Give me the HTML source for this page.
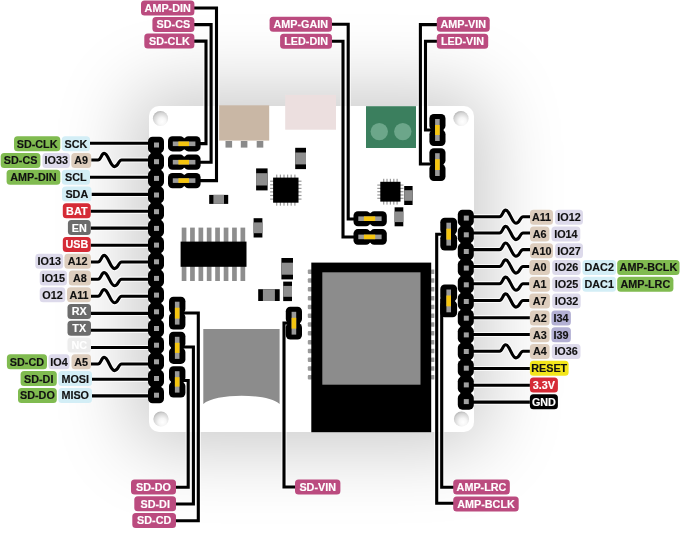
<!DOCTYPE html>
<html><head><meta charset="utf-8"><style>
html,body{margin:0;padding:0;background:#fff;}
body{width:680px;height:536px;overflow:hidden;position:relative;}
.board{position:absolute;left:149px;top:106px;width:325px;height:326px;border-radius:10px;background:#fff;box-shadow:-2px 0 76px 16px rgba(0,0,0,0.21);}
svg{position:absolute;left:0;top:0;will-change:transform;}
text{font-family:"Liberation Sans",sans-serif;font-weight:bold;font-size:10.8px;}
.wrap{position:absolute;left:0;top:0;width:680px;height:536px;filter:blur(0.3px);}
</style></head><body><div class="wrap">
<div class="board"></div>
<svg width="680" height="536" viewBox="0 0 680 536">
<defs><radialGradient id="hole" cx="0.58" cy="0.66" fx="0.6" fy="0.72" r="0.72"><stop offset="0" stop-color="#ffffff"/><stop offset="0.35" stop-color="#f6f6f6"/><stop offset="0.75" stop-color="#d4d4d4"/><stop offset="1" stop-color="#a9a9a9"/></radialGradient></defs>
<rect x="219" y="105.3" width="50.2" height="35.3" fill="#c9b7a5"/>
<rect x="225.5" y="141" width="6.6" height="6.6" fill="#8a8a8a"/>
<rect x="240.8" y="141" width="6.6" height="6.6" fill="#8a8a8a"/>
<rect x="256.7" y="141" width="6.6" height="6.6" fill="#8a8a8a"/>
<rect x="285.2" y="94.9" width="50.8" height="34.8" fill="#ecdfdf"/>
<rect x="366" y="106.2" width="50" height="41.8" fill="#3b7f5e"/>
<circle cx="379.3" cy="131.6" r="8.7" fill="#6ca68a"/>
<circle cx="402.8" cy="131.6" r="8.7" fill="#6ca68a"/>
<rect x="295.2" y="147.8" width="10.8" height="21.3" fill="#000"/>
<rect x="295.2" y="152.5" width="10.8" height="11.9" fill="#8e8e8e"/>
<rect x="256.1" y="168.4" width="11.5" height="22.0" fill="#000"/>
<rect x="256.1" y="173.2" width="11.5" height="12.3" fill="#8e8e8e"/>
<rect x="404.2" y="186" width="8.4" height="19.0" fill="#000"/>
<rect x="404.2" y="190.2" width="8.4" height="10.6" fill="#8e8e8e"/>
<rect x="394.6" y="207.3" width="8.7" height="19.0" fill="#000"/>
<rect x="394.6" y="211.5" width="8.7" height="10.6" fill="#8e8e8e"/>
<rect x="253.6" y="218.2" width="8.8" height="19.3" fill="#000"/>
<rect x="253.6" y="222.4" width="8.8" height="10.8" fill="#8e8e8e"/>
<rect x="281.4" y="258" width="11.6" height="21.4" fill="#000"/>
<rect x="281.4" y="262.7" width="11.6" height="12.0" fill="#8e8e8e"/>
<rect x="283.2" y="281.6" width="8.8" height="19.5" fill="#000"/>
<rect x="283.2" y="285.9" width="8.8" height="10.9" fill="#8e8e8e"/>
<rect x="209.2" y="194.9" width="19.0" height="9.0" fill="#000"/>
<rect x="213.4" y="194.9" width="10.6" height="9.0" fill="#8e8e8e"/>
<rect x="258.2" y="289.2" width="21.5" height="11.8" fill="#000"/>
<rect x="262.9" y="289.2" width="12.0" height="11.8" fill="#8e8e8e"/>
<rect x="276.1" y="174.6" width="1.2" height="31.1" fill="#999"/>
<rect x="270.1" y="180.6" width="31.4" height="1.2" fill="#999"/>
<rect x="279.8" y="174.6" width="1.2" height="31.1" fill="#999"/>
<rect x="270.1" y="184.2" width="31.4" height="1.2" fill="#999"/>
<rect x="283.4" y="174.6" width="1.2" height="31.1" fill="#999"/>
<rect x="270.1" y="187.8" width="31.4" height="1.2" fill="#999"/>
<rect x="287.0" y="174.6" width="1.2" height="31.1" fill="#999"/>
<rect x="270.1" y="191.3" width="31.4" height="1.2" fill="#999"/>
<rect x="290.6" y="174.6" width="1.2" height="31.1" fill="#999"/>
<rect x="270.1" y="194.9" width="31.4" height="1.2" fill="#999"/>
<rect x="294.3" y="174.6" width="1.2" height="31.1" fill="#999"/>
<rect x="270.1" y="198.5" width="31.4" height="1.2" fill="#999"/>
<rect x="273.1" y="177.6" width="25.4" height="25.1" fill="#000"/>
<rect x="383.1" y="178.8" width="1.2" height="25.8" fill="#999"/>
<rect x="377.3" y="184.5" width="26.2" height="1.2" fill="#999"/>
<rect x="386.4" y="178.8" width="1.2" height="25.8" fill="#999"/>
<rect x="377.3" y="187.8" width="26.2" height="1.2" fill="#999"/>
<rect x="389.8" y="178.8" width="1.2" height="25.8" fill="#999"/>
<rect x="377.3" y="191.1" width="26.2" height="1.2" fill="#999"/>
<rect x="393.2" y="178.8" width="1.2" height="25.8" fill="#999"/>
<rect x="377.3" y="194.4" width="26.2" height="1.2" fill="#999"/>
<rect x="396.5" y="178.8" width="1.2" height="25.8" fill="#999"/>
<rect x="377.3" y="197.7" width="26.2" height="1.2" fill="#999"/>
<rect x="380.3" y="181.8" width="20.2" height="19.8" fill="#000"/>
<rect x="181.7" y="227.6" width="4.7" height="53.4" fill="#8e8e8e"/>
<rect x="190.1" y="227.6" width="4.7" height="53.4" fill="#8e8e8e"/>
<rect x="198.5" y="227.6" width="4.7" height="53.4" fill="#8e8e8e"/>
<rect x="206.8" y="227.6" width="4.7" height="53.4" fill="#8e8e8e"/>
<rect x="215.2" y="227.6" width="4.7" height="53.4" fill="#8e8e8e"/>
<rect x="223.7" y="227.6" width="4.7" height="53.4" fill="#8e8e8e"/>
<rect x="232.1" y="227.6" width="4.7" height="53.4" fill="#8e8e8e"/>
<rect x="240.5" y="227.6" width="4.7" height="53.4" fill="#8e8e8e"/>
<rect x="180.6" y="241.6" width="65.9" height="25.2" fill="#000"/>
<rect x="307.8" y="269.5" width="4.5" height="4.5" rx="1" fill="#9a9a9a"/>
<rect x="430.8" y="269.5" width="4.5" height="4.5" rx="1" fill="#9a9a9a"/>
<rect x="307.8" y="278.3" width="4.5" height="4.5" rx="1" fill="#9a9a9a"/>
<rect x="430.8" y="278.3" width="4.5" height="4.5" rx="1" fill="#9a9a9a"/>
<rect x="307.8" y="287.1" width="4.5" height="4.5" rx="1" fill="#9a9a9a"/>
<rect x="430.8" y="287.1" width="4.5" height="4.5" rx="1" fill="#9a9a9a"/>
<rect x="307.8" y="295.9" width="4.5" height="4.5" rx="1" fill="#9a9a9a"/>
<rect x="430.8" y="295.9" width="4.5" height="4.5" rx="1" fill="#9a9a9a"/>
<rect x="307.8" y="304.7" width="4.5" height="4.5" rx="1" fill="#9a9a9a"/>
<rect x="430.8" y="304.7" width="4.5" height="4.5" rx="1" fill="#9a9a9a"/>
<rect x="307.8" y="313.5" width="4.5" height="4.5" rx="1" fill="#9a9a9a"/>
<rect x="430.8" y="313.5" width="4.5" height="4.5" rx="1" fill="#9a9a9a"/>
<rect x="307.8" y="322.3" width="4.5" height="4.5" rx="1" fill="#9a9a9a"/>
<rect x="430.8" y="322.3" width="4.5" height="4.5" rx="1" fill="#9a9a9a"/>
<rect x="307.8" y="331.1" width="4.5" height="4.5" rx="1" fill="#9a9a9a"/>
<rect x="430.8" y="331.1" width="4.5" height="4.5" rx="1" fill="#9a9a9a"/>
<rect x="307.8" y="339.9" width="4.5" height="4.5" rx="1" fill="#9a9a9a"/>
<rect x="430.8" y="339.9" width="4.5" height="4.5" rx="1" fill="#9a9a9a"/>
<rect x="307.8" y="348.7" width="4.5" height="4.5" rx="1" fill="#9a9a9a"/>
<rect x="430.8" y="348.7" width="4.5" height="4.5" rx="1" fill="#9a9a9a"/>
<rect x="307.8" y="357.5" width="4.5" height="4.5" rx="1" fill="#9a9a9a"/>
<rect x="430.8" y="357.5" width="4.5" height="4.5" rx="1" fill="#9a9a9a"/>
<rect x="307.8" y="366.3" width="4.5" height="4.5" rx="1" fill="#9a9a9a"/>
<rect x="430.8" y="366.3" width="4.5" height="4.5" rx="1" fill="#9a9a9a"/>
<rect x="307.8" y="375.1" width="4.5" height="4.5" rx="1" fill="#9a9a9a"/>
<rect x="430.8" y="375.1" width="4.5" height="4.5" rx="1" fill="#9a9a9a"/>
<rect x="311.3" y="262.6" width="119.9" height="169.6" fill="#000"/>
<rect x="322.3" y="272.3" width="98.2" height="112.4" fill="#8c8c8c"/>
<path d="M203.3,328.9 H279.6 V404 C268,393 215,393 203.3,404 Z" fill="#8c8c8c"/>
<circle cx="160.5" cy="118.5" r="7.6" fill="url(#hole)"/>
<circle cx="461" cy="118.5" r="7.6" fill="url(#hole)"/>
<circle cx="161" cy="419" r="7.6" fill="url(#hole)"/>
<circle cx="461.5" cy="419" r="7.6" fill="url(#hole)"/>
<path d="M90.0,143.2 H150" fill="none" stroke="#fff" stroke-opacity="0.75" stroke-width="5.2" stroke-linejoin="miter"/>
<path d="M91.2,160.0 H98.0 C101.2,160.0 101.2,153.4 104.2,153.4 C108.2,153.4 110.4,166.6 114.4,166.6 C118.4,166.6 118.4,160.0 121.6,160.0 H150" fill="none" stroke="#fff" stroke-opacity="0.75" stroke-width="5.2" stroke-linejoin="miter"/>
<path d="M90.0,177.2 H150" fill="none" stroke="#fff" stroke-opacity="0.75" stroke-width="5.2" stroke-linejoin="miter"/>
<path d="M91.5,194.4 H150" fill="none" stroke="#fff" stroke-opacity="0.75" stroke-width="5.2" stroke-linejoin="miter"/>
<path d="M90.7,211.3 H150" fill="none" stroke="#fff" stroke-opacity="0.75" stroke-width="5.2" stroke-linejoin="miter"/>
<path d="M90.7,228.1 H150" fill="none" stroke="#fff" stroke-opacity="0.75" stroke-width="5.2" stroke-linejoin="miter"/>
<path d="M90.7,245.3 H150" fill="none" stroke="#fff" stroke-opacity="0.75" stroke-width="5.2" stroke-linejoin="miter"/>
<path d="M90.9,262.0 H98.0 C101.2,262.0 101.2,255.4 104.2,255.4 C108.2,255.4 110.4,268.6 114.4,268.6 C118.4,268.6 118.4,262.0 121.6,262.0 H150" fill="none" stroke="#fff" stroke-opacity="0.75" stroke-width="5.2" stroke-linejoin="miter"/>
<path d="M90.9,279.2 H98.0 C101.2,279.2 101.2,272.6 104.2,272.6 C108.2,272.6 110.4,285.8 114.4,285.8 C118.4,285.8 118.4,279.2 121.6,279.2 H150" fill="none" stroke="#fff" stroke-opacity="0.75" stroke-width="5.2" stroke-linejoin="miter"/>
<path d="M90.9,296.2 H98.0 C101.2,296.2 101.2,289.6 104.2,289.6 C108.2,289.6 110.4,302.8 114.4,302.8 C118.4,302.8 118.4,296.2 121.6,296.2 H150" fill="none" stroke="#fff" stroke-opacity="0.75" stroke-width="5.2" stroke-linejoin="miter"/>
<path d="M91.0,313.4 H150" fill="none" stroke="#fff" stroke-opacity="0.75" stroke-width="5.2" stroke-linejoin="miter"/>
<path d="M91.0,330.3 H150" fill="none" stroke="#fff" stroke-opacity="0.75" stroke-width="5.2" stroke-linejoin="miter"/>
<path d="M91.0,347.5 H150" fill="none" stroke="#fff" stroke-opacity="0.75" stroke-width="5.2" stroke-linejoin="miter"/>
<path d="M91.0,364.0 H98.0 C101.2,364.0 101.2,357.4 104.2,357.4 C108.2,357.4 110.4,370.6 114.4,370.6 C118.4,370.6 118.4,364.0 121.6,364.0 H150" fill="none" stroke="#fff" stroke-opacity="0.75" stroke-width="5.2" stroke-linejoin="miter"/>
<path d="M92.0,379.3 H150" fill="none" stroke="#fff" stroke-opacity="0.75" stroke-width="5.2" stroke-linejoin="miter"/>
<path d="M92.0,395.9 H150" fill="none" stroke="#fff" stroke-opacity="0.75" stroke-width="5.2" stroke-linejoin="miter"/>
<path d="M472,216.7 H499.5 C502.7,216.7 502.7,210.1 505.7,210.1 C509.7,210.1 511.9,223.3 515.9,223.3 C519.9,223.3 519.9,216.7 523.1,216.7 H530.0" fill="none" stroke="#fff" stroke-opacity="0.75" stroke-width="5.2" stroke-linejoin="miter"/>
<path d="M472,233.0 H499.5 C502.7,233.0 502.7,226.4 505.7,226.4 C509.7,226.4 511.9,239.6 515.9,239.6 C519.9,239.6 519.9,233.0 523.1,233.0 H530.0" fill="none" stroke="#fff" stroke-opacity="0.75" stroke-width="5.2" stroke-linejoin="miter"/>
<path d="M472,249.6 H499.5 C502.7,249.6 502.7,243.0 505.7,243.0 C509.7,243.0 511.9,256.2 515.9,256.2 C519.9,256.2 519.9,249.6 523.1,249.6 H530.0" fill="none" stroke="#fff" stroke-opacity="0.75" stroke-width="5.2" stroke-linejoin="miter"/>
<path d="M472,266.5 H499.5 C502.7,266.5 502.7,259.9 505.7,259.9 C509.7,259.9 511.9,273.1 515.9,273.1 C519.9,273.1 519.9,266.5 523.1,266.5 H529.4" fill="none" stroke="#fff" stroke-opacity="0.75" stroke-width="5.2" stroke-linejoin="miter"/>
<path d="M472,283.7 H499.5 C502.7,283.7 502.7,277.1 505.7,277.1 C509.7,277.1 511.9,290.3 515.9,290.3 C519.9,290.3 519.9,283.7 523.1,283.7 H529.4" fill="none" stroke="#fff" stroke-opacity="0.75" stroke-width="5.2" stroke-linejoin="miter"/>
<path d="M472,300.5 H499.5 C502.7,300.5 502.7,293.9 505.7,293.9 C509.7,293.9 511.9,307.1 515.9,307.1 C519.9,307.1 519.9,300.5 523.1,300.5 H529.4" fill="none" stroke="#fff" stroke-opacity="0.75" stroke-width="5.2" stroke-linejoin="miter"/>
<path d="M472,317.7 H529.9" fill="none" stroke="#fff" stroke-opacity="0.75" stroke-width="5.2" stroke-linejoin="miter"/>
<path d="M472,334.5 H529.9" fill="none" stroke="#fff" stroke-opacity="0.75" stroke-width="5.2" stroke-linejoin="miter"/>
<path d="M472,351.3 H499.5 C502.7,351.3 502.7,344.7 505.7,344.7 C509.7,344.7 511.9,357.9 515.9,357.9 C519.9,357.9 519.9,351.3 523.1,351.3 H529.9" fill="none" stroke="#fff" stroke-opacity="0.75" stroke-width="5.2" stroke-linejoin="miter"/>
<path d="M472,368.5 H529.9" fill="none" stroke="#fff" stroke-opacity="0.75" stroke-width="5.2" stroke-linejoin="miter"/>
<path d="M472,385.3 H529.9" fill="none" stroke="#fff" stroke-opacity="0.75" stroke-width="5.2" stroke-linejoin="miter"/>
<path d="M472,402.1 H529.9" fill="none" stroke="#fff" stroke-opacity="0.75" stroke-width="5.2" stroke-linejoin="miter"/>
<path d="M194,8 H216.5 V180.6 H198" fill="none" stroke="#fff" stroke-opacity="0.75" stroke-width="5.2" stroke-linejoin="miter"/>
<path d="M194,24.6 H211.1 V162.2 H198" fill="none" stroke="#fff" stroke-opacity="0.75" stroke-width="5.2" stroke-linejoin="miter"/>
<path d="M194,41.1 H206 V143.6 H198" fill="none" stroke="#fff" stroke-opacity="0.75" stroke-width="5.2" stroke-linejoin="miter"/>
<path d="M331,24.2 H348.2 V219 H356" fill="none" stroke="#fff" stroke-opacity="0.75" stroke-width="5.2" stroke-linejoin="miter"/>
<path d="M331,41.2 H343 V237 H356" fill="none" stroke="#fff" stroke-opacity="0.75" stroke-width="5.2" stroke-linejoin="miter"/>
<path d="M437,24.6 H420.4 V164 H432" fill="none" stroke="#fff" stroke-opacity="0.75" stroke-width="5.2" stroke-linejoin="miter"/>
<path d="M437,41.2 H425.5 V130 H432" fill="none" stroke="#fff" stroke-opacity="0.75" stroke-width="5.2" stroke-linejoin="miter"/>
<path d="M175,487.2 H188.2 V380.5 H183" fill="none" stroke="#fff" stroke-opacity="0.75" stroke-width="5.2" stroke-linejoin="miter"/>
<path d="M175,504 H193.4 V347 H183" fill="none" stroke="#fff" stroke-opacity="0.75" stroke-width="5.2" stroke-linejoin="miter"/>
<path d="M175,520.8 H198.3 V313 H183" fill="none" stroke="#fff" stroke-opacity="0.75" stroke-width="5.2" stroke-linejoin="miter"/>
<path d="M339,487 H284 V323 H289" fill="none" stroke="#fff" stroke-opacity="0.75" stroke-width="5.2" stroke-linejoin="miter"/>
<path d="M454,487.2 H441.7 V300 H444" fill="none" stroke="#fff" stroke-opacity="0.75" stroke-width="5.2" stroke-linejoin="miter"/>
<path d="M454,503.3 H436.7 V234.3 H443" fill="none" stroke="#fff" stroke-opacity="0.75" stroke-width="5.2" stroke-linejoin="miter"/>
<path d="M90.0,143.2 H150" fill="none" stroke="#000" stroke-width="3.1" stroke-linejoin="miter"/>
<path d="M91.2,160.0 H98.0 C101.2,160.0 101.2,153.4 104.2,153.4 C108.2,153.4 110.4,166.6 114.4,166.6 C118.4,166.6 118.4,160.0 121.6,160.0 H150" fill="none" stroke="#000" stroke-width="3.1" stroke-linejoin="miter"/>
<path d="M90.0,177.2 H150" fill="none" stroke="#000" stroke-width="3.1" stroke-linejoin="miter"/>
<path d="M91.5,194.4 H150" fill="none" stroke="#000" stroke-width="3.1" stroke-linejoin="miter"/>
<path d="M90.7,211.3 H150" fill="none" stroke="#000" stroke-width="3.1" stroke-linejoin="miter"/>
<path d="M90.7,228.1 H150" fill="none" stroke="#000" stroke-width="3.1" stroke-linejoin="miter"/>
<path d="M90.7,245.3 H150" fill="none" stroke="#000" stroke-width="3.1" stroke-linejoin="miter"/>
<path d="M90.9,262.0 H98.0 C101.2,262.0 101.2,255.4 104.2,255.4 C108.2,255.4 110.4,268.6 114.4,268.6 C118.4,268.6 118.4,262.0 121.6,262.0 H150" fill="none" stroke="#000" stroke-width="3.1" stroke-linejoin="miter"/>
<path d="M90.9,279.2 H98.0 C101.2,279.2 101.2,272.6 104.2,272.6 C108.2,272.6 110.4,285.8 114.4,285.8 C118.4,285.8 118.4,279.2 121.6,279.2 H150" fill="none" stroke="#000" stroke-width="3.1" stroke-linejoin="miter"/>
<path d="M90.9,296.2 H98.0 C101.2,296.2 101.2,289.6 104.2,289.6 C108.2,289.6 110.4,302.8 114.4,302.8 C118.4,302.8 118.4,296.2 121.6,296.2 H150" fill="none" stroke="#000" stroke-width="3.1" stroke-linejoin="miter"/>
<path d="M91.0,313.4 H150" fill="none" stroke="#000" stroke-width="3.1" stroke-linejoin="miter"/>
<path d="M91.0,330.3 H150" fill="none" stroke="#000" stroke-width="3.1" stroke-linejoin="miter"/>
<path d="M91.0,347.5 H150" fill="none" stroke="#000" stroke-width="3.1" stroke-linejoin="miter"/>
<path d="M91.0,364.0 H98.0 C101.2,364.0 101.2,357.4 104.2,357.4 C108.2,357.4 110.4,370.6 114.4,370.6 C118.4,370.6 118.4,364.0 121.6,364.0 H150" fill="none" stroke="#000" stroke-width="3.1" stroke-linejoin="miter"/>
<path d="M92.0,379.3 H150" fill="none" stroke="#000" stroke-width="3.1" stroke-linejoin="miter"/>
<path d="M92.0,395.9 H150" fill="none" stroke="#000" stroke-width="3.1" stroke-linejoin="miter"/>
<path d="M472,216.7 H499.5 C502.7,216.7 502.7,210.1 505.7,210.1 C509.7,210.1 511.9,223.3 515.9,223.3 C519.9,223.3 519.9,216.7 523.1,216.7 H530.0" fill="none" stroke="#000" stroke-width="3.1" stroke-linejoin="miter"/>
<path d="M472,233.0 H499.5 C502.7,233.0 502.7,226.4 505.7,226.4 C509.7,226.4 511.9,239.6 515.9,239.6 C519.9,239.6 519.9,233.0 523.1,233.0 H530.0" fill="none" stroke="#000" stroke-width="3.1" stroke-linejoin="miter"/>
<path d="M472,249.6 H499.5 C502.7,249.6 502.7,243.0 505.7,243.0 C509.7,243.0 511.9,256.2 515.9,256.2 C519.9,256.2 519.9,249.6 523.1,249.6 H530.0" fill="none" stroke="#000" stroke-width="3.1" stroke-linejoin="miter"/>
<path d="M472,266.5 H499.5 C502.7,266.5 502.7,259.9 505.7,259.9 C509.7,259.9 511.9,273.1 515.9,273.1 C519.9,273.1 519.9,266.5 523.1,266.5 H529.4" fill="none" stroke="#000" stroke-width="3.1" stroke-linejoin="miter"/>
<path d="M472,283.7 H499.5 C502.7,283.7 502.7,277.1 505.7,277.1 C509.7,277.1 511.9,290.3 515.9,290.3 C519.9,290.3 519.9,283.7 523.1,283.7 H529.4" fill="none" stroke="#000" stroke-width="3.1" stroke-linejoin="miter"/>
<path d="M472,300.5 H499.5 C502.7,300.5 502.7,293.9 505.7,293.9 C509.7,293.9 511.9,307.1 515.9,307.1 C519.9,307.1 519.9,300.5 523.1,300.5 H529.4" fill="none" stroke="#000" stroke-width="3.1" stroke-linejoin="miter"/>
<path d="M472,317.7 H529.9" fill="none" stroke="#000" stroke-width="3.1" stroke-linejoin="miter"/>
<path d="M472,334.5 H529.9" fill="none" stroke="#000" stroke-width="3.1" stroke-linejoin="miter"/>
<path d="M472,351.3 H499.5 C502.7,351.3 502.7,344.7 505.7,344.7 C509.7,344.7 511.9,357.9 515.9,357.9 C519.9,357.9 519.9,351.3 523.1,351.3 H529.9" fill="none" stroke="#000" stroke-width="3.1" stroke-linejoin="miter"/>
<path d="M472,368.5 H529.9" fill="none" stroke="#000" stroke-width="3.1" stroke-linejoin="miter"/>
<path d="M472,385.3 H529.9" fill="none" stroke="#000" stroke-width="3.1" stroke-linejoin="miter"/>
<path d="M472,402.1 H529.9" fill="none" stroke="#000" stroke-width="3.1" stroke-linejoin="miter"/>
<path d="M194,8 H216.5 V180.6 H198" fill="none" stroke="#000" stroke-width="3.1" stroke-linejoin="miter"/>
<path d="M194,24.6 H211.1 V162.2 H198" fill="none" stroke="#000" stroke-width="3.1" stroke-linejoin="miter"/>
<path d="M194,41.1 H206 V143.6 H198" fill="none" stroke="#000" stroke-width="3.1" stroke-linejoin="miter"/>
<path d="M331,24.2 H348.2 V219 H356" fill="none" stroke="#000" stroke-width="3.1" stroke-linejoin="miter"/>
<path d="M331,41.2 H343 V237 H356" fill="none" stroke="#000" stroke-width="3.1" stroke-linejoin="miter"/>
<path d="M437,24.6 H420.4 V164 H432" fill="none" stroke="#000" stroke-width="3.1" stroke-linejoin="miter"/>
<path d="M437,41.2 H425.5 V130 H432" fill="none" stroke="#000" stroke-width="3.1" stroke-linejoin="miter"/>
<path d="M175,487.2 H188.2 V380.5 H183" fill="none" stroke="#000" stroke-width="3.1" stroke-linejoin="miter"/>
<path d="M175,504 H193.4 V347 H183" fill="none" stroke="#000" stroke-width="3.1" stroke-linejoin="miter"/>
<path d="M175,520.8 H198.3 V313 H183" fill="none" stroke="#000" stroke-width="3.1" stroke-linejoin="miter"/>
<path d="M339,487 H284 V323 H289" fill="none" stroke="#000" stroke-width="3.1" stroke-linejoin="miter"/>
<path d="M454,487.2 H441.7 V300 H444" fill="none" stroke="#000" stroke-width="3.1" stroke-linejoin="miter"/>
<path d="M454,503.3 H436.7 V234.3 H443" fill="none" stroke="#000" stroke-width="3.1" stroke-linejoin="miter"/>
<rect x="150.6" y="139.2" width="10.8" height="261.7" fill="#000"/>
<rect x="148.0" y="136.7" width="16" height="16.4" rx="4.6" fill="#000"/>
<rect x="154.0" y="142.5" width="5" height="5" fill="#a0a0a0"/>
<rect x="148.0" y="153.4" width="16" height="16.4" rx="4.6" fill="#000"/>
<rect x="154.0" y="159.2" width="5" height="5" fill="#a0a0a0"/>
<rect x="148.0" y="170.1" width="16" height="16.4" rx="4.6" fill="#000"/>
<rect x="154.0" y="175.9" width="5" height="5" fill="#a0a0a0"/>
<rect x="148.0" y="186.7" width="16" height="16.4" rx="4.6" fill="#000"/>
<rect x="154.0" y="192.5" width="5" height="5" fill="#a0a0a0"/>
<rect x="148.0" y="203.4" width="16" height="16.4" rx="4.6" fill="#000"/>
<rect x="154.0" y="209.2" width="5" height="5" fill="#a0a0a0"/>
<rect x="148.0" y="220.1" width="16" height="16.4" rx="4.6" fill="#000"/>
<rect x="154.0" y="225.9" width="5" height="5" fill="#a0a0a0"/>
<rect x="148.0" y="236.8" width="16" height="16.4" rx="4.6" fill="#000"/>
<rect x="154.0" y="242.6" width="5" height="5" fill="#a0a0a0"/>
<rect x="148.0" y="253.5" width="16" height="16.4" rx="4.6" fill="#000"/>
<rect x="154.0" y="259.3" width="5" height="5" fill="#a0a0a0"/>
<rect x="148.0" y="270.1" width="16" height="16.4" rx="4.6" fill="#000"/>
<rect x="154.0" y="275.9" width="5" height="5" fill="#a0a0a0"/>
<rect x="148.0" y="286.8" width="16" height="16.4" rx="4.6" fill="#000"/>
<rect x="154.0" y="292.6" width="5" height="5" fill="#a0a0a0"/>
<rect x="148.0" y="303.5" width="16" height="16.4" rx="4.6" fill="#000"/>
<rect x="154.0" y="309.3" width="5" height="5" fill="#a0a0a0"/>
<rect x="148.0" y="320.2" width="16" height="16.4" rx="4.6" fill="#000"/>
<rect x="154.0" y="326.0" width="5" height="5" fill="#a0a0a0"/>
<rect x="148.0" y="336.9" width="16" height="16.4" rx="4.6" fill="#000"/>
<rect x="154.0" y="342.7" width="5" height="5" fill="#a0a0a0"/>
<rect x="148.0" y="353.5" width="16" height="16.4" rx="4.6" fill="#000"/>
<rect x="154.0" y="359.3" width="5" height="5" fill="#a0a0a0"/>
<rect x="148.0" y="370.2" width="16" height="16.4" rx="4.6" fill="#000"/>
<rect x="154.0" y="376.0" width="5" height="5" fill="#a0a0a0"/>
<rect x="148.0" y="386.9" width="16" height="16.4" rx="4.6" fill="#000"/>
<rect x="154.0" y="392.7" width="5" height="5" fill="#a0a0a0"/>
<rect x="460.4" y="212.2" width="10.8" height="195.0" fill="#000"/>
<rect x="457.8" y="209.8" width="16" height="16.4" rx="4.6" fill="#000"/>
<rect x="463.8" y="215.6" width="5" height="5" fill="#a0a0a0"/>
<rect x="457.8" y="226.5" width="16" height="16.4" rx="4.6" fill="#000"/>
<rect x="463.8" y="232.3" width="5" height="5" fill="#a0a0a0"/>
<rect x="457.8" y="243.2" width="16" height="16.4" rx="4.6" fill="#000"/>
<rect x="463.8" y="249.0" width="5" height="5" fill="#a0a0a0"/>
<rect x="457.8" y="259.8" width="16" height="16.4" rx="4.6" fill="#000"/>
<rect x="463.8" y="265.6" width="5" height="5" fill="#a0a0a0"/>
<rect x="457.8" y="276.5" width="16" height="16.4" rx="4.6" fill="#000"/>
<rect x="463.8" y="282.3" width="5" height="5" fill="#a0a0a0"/>
<rect x="457.8" y="293.2" width="16" height="16.4" rx="4.6" fill="#000"/>
<rect x="463.8" y="299.0" width="5" height="5" fill="#a0a0a0"/>
<rect x="457.8" y="309.9" width="16" height="16.4" rx="4.6" fill="#000"/>
<rect x="463.8" y="315.7" width="5" height="5" fill="#a0a0a0"/>
<rect x="457.8" y="326.6" width="16" height="16.4" rx="4.6" fill="#000"/>
<rect x="463.8" y="332.4" width="5" height="5" fill="#a0a0a0"/>
<rect x="457.8" y="343.2" width="16" height="16.4" rx="4.6" fill="#000"/>
<rect x="463.8" y="349.0" width="5" height="5" fill="#a0a0a0"/>
<rect x="457.8" y="359.9" width="16" height="16.4" rx="4.6" fill="#000"/>
<rect x="463.8" y="365.7" width="5" height="5" fill="#a0a0a0"/>
<rect x="457.8" y="376.6" width="16" height="16.4" rx="4.6" fill="#000"/>
<rect x="463.8" y="382.4" width="5" height="5" fill="#a0a0a0"/>
<rect x="457.8" y="393.3" width="16" height="16.4" rx="4.6" fill="#000"/>
<rect x="463.8" y="399.1" width="5" height="5" fill="#a0a0a0"/>
<rect x="168.0" y="136.2" width="16.6" height="15.2" rx="4.5" fill="#000"/>
<rect x="184.0" y="136.2" width="16.6" height="15.2" rx="4.5" fill="#000"/>
<rect x="180.3" y="138.2" width="8" height="11.2" fill="#000"/>
<rect x="172.8" y="141.5" width="22.6" height="4.6" fill="#9a9a9a"/>
<rect x="178.4" y="141.5" width="10.6" height="4.6" fill="#f5c510"/>
<rect x="168.0" y="154.6" width="16.6" height="15.2" rx="4.5" fill="#000"/>
<rect x="184.0" y="154.6" width="16.6" height="15.2" rx="4.5" fill="#000"/>
<rect x="180.3" y="156.6" width="8" height="11.2" fill="#000"/>
<rect x="172.8" y="159.9" width="22.6" height="4.6" fill="#9a9a9a"/>
<rect x="178.4" y="159.9" width="10.6" height="4.6" fill="#f5c510"/>
<rect x="168.0" y="173.0" width="16.6" height="15.2" rx="4.5" fill="#000"/>
<rect x="184.0" y="173.0" width="16.6" height="15.2" rx="4.5" fill="#000"/>
<rect x="180.3" y="175.0" width="8" height="11.2" fill="#000"/>
<rect x="172.8" y="178.3" width="22.6" height="4.6" fill="#9a9a9a"/>
<rect x="178.4" y="178.3" width="10.6" height="4.6" fill="#f5c510"/>
<rect x="169.0" y="296.7" width="16.4" height="16.8" rx="4.5" fill="#000"/>
<rect x="169.0" y="312.8" width="16.4" height="16.8" rx="4.5" fill="#000"/>
<rect x="171.0" y="309.1" width="12.4" height="8" fill="#000"/>
<rect x="174.9" y="301.7" width="4.6" height="22.9" fill="#9a9a9a"/>
<rect x="174.9" y="307.7" width="4.6" height="10.9" fill="#f5c510"/>
<rect x="169.0" y="331.8" width="16.4" height="16.3" rx="4.5" fill="#000"/>
<rect x="169.0" y="347.6" width="16.4" height="16.3" rx="4.5" fill="#000"/>
<rect x="171.0" y="343.9" width="12.4" height="8" fill="#000"/>
<rect x="174.9" y="336.8" width="4.6" height="22.1" fill="#9a9a9a"/>
<rect x="174.9" y="342.8" width="4.6" height="10.1" fill="#f5c510"/>
<rect x="169.0" y="366.2" width="16.4" height="16.0" rx="4.5" fill="#000"/>
<rect x="169.0" y="381.6" width="16.4" height="16.0" rx="4.5" fill="#000"/>
<rect x="171.0" y="377.9" width="12.4" height="8" fill="#000"/>
<rect x="174.9" y="371.2" width="4.6" height="21.4" fill="#9a9a9a"/>
<rect x="174.9" y="377.2" width="4.6" height="9.4" fill="#f5c510"/>
<rect x="429.4" y="114.0" width="16.1" height="16.3" rx="4.5" fill="#000"/>
<rect x="429.4" y="129.7" width="16.1" height="16.3" rx="4.5" fill="#000"/>
<rect x="431.4" y="126.0" width="12.1" height="8" fill="#000"/>
<rect x="435.1" y="119.0" width="4.6" height="22.0" fill="#9a9a9a"/>
<rect x="435.1" y="125.0" width="4.6" height="10.0" fill="#f5c510"/>
<rect x="429.4" y="148.2" width="16.1" height="16.7" rx="4.5" fill="#000"/>
<rect x="429.4" y="164.3" width="16.1" height="16.7" rx="4.5" fill="#000"/>
<rect x="431.4" y="160.6" width="12.1" height="8" fill="#000"/>
<rect x="435.1" y="153.2" width="4.6" height="22.8" fill="#9a9a9a"/>
<rect x="435.1" y="159.2" width="4.6" height="10.8" fill="#f5c510"/>
<rect x="440.3" y="217.7" width="16.8" height="16.8" rx="4.5" fill="#000"/>
<rect x="440.3" y="233.8" width="16.8" height="16.8" rx="4.5" fill="#000"/>
<rect x="442.3" y="230.1" width="12.8" height="8" fill="#000"/>
<rect x="446.4" y="222.7" width="4.6" height="22.9" fill="#9a9a9a"/>
<rect x="446.4" y="228.7" width="4.6" height="10.9" fill="#f5c510"/>
<rect x="440.3" y="284.5" width="16.8" height="16.7" rx="4.5" fill="#000"/>
<rect x="440.3" y="300.6" width="16.8" height="16.7" rx="4.5" fill="#000"/>
<rect x="442.3" y="296.9" width="12.8" height="8" fill="#000"/>
<rect x="446.4" y="289.5" width="4.6" height="22.8" fill="#9a9a9a"/>
<rect x="446.4" y="295.5" width="4.6" height="10.8" fill="#f5c510"/>
<rect x="353.5" y="211.2" width="17.0" height="15.1" rx="4.5" fill="#000"/>
<rect x="369.8" y="211.2" width="17.0" height="15.1" rx="4.5" fill="#000"/>
<rect x="366.1" y="213.2" width="8" height="11.1" fill="#000"/>
<rect x="358.3" y="216.4" width="23.3" height="4.6" fill="#9a9a9a"/>
<rect x="363.9" y="216.4" width="11.3" height="4.6" fill="#f5c510"/>
<rect x="353.5" y="229.1" width="17.0" height="15.6" rx="4.5" fill="#000"/>
<rect x="369.8" y="229.1" width="17.0" height="15.6" rx="4.5" fill="#000"/>
<rect x="366.1" y="231.1" width="8" height="11.6" fill="#000"/>
<rect x="358.3" y="234.6" width="23.3" height="4.6" fill="#9a9a9a"/>
<rect x="363.9" y="234.6" width="11.3" height="4.6" fill="#f5c510"/>
<rect x="285.8" y="306.8" width="16.2" height="16.7" rx="4.5" fill="#000"/>
<rect x="285.8" y="322.9" width="16.2" height="16.7" rx="4.5" fill="#000"/>
<rect x="287.8" y="319.2" width="12.2" height="8" fill="#000"/>
<rect x="291.6" y="311.8" width="4.6" height="22.8" fill="#9a9a9a"/>
<rect x="291.6" y="317.8" width="4.6" height="10.8" fill="#f5c510"/>
<rect x="14.0" y="136.2" width="46.3" height="15.0" rx="3.5" fill="#80bb50"/>
<text x="37.1" y="147.6" fill="#111" stroke="#111" stroke-width="0.15" text-anchor="middle">SD-CLK</text>
<rect x="61.8" y="136.2" width="28.2" height="15.0" rx="3.5" fill="#d3eef6"/>
<text x="75.9" y="147.6" fill="#111" stroke="#111" stroke-width="0.15" text-anchor="middle">SCK</text>
<rect x="0.7" y="153.0" width="39.7" height="15.0" rx="3.5" fill="#80bb50"/>
<text x="20.6" y="164.4" fill="#111" stroke="#111" stroke-width="0.15" text-anchor="middle">SD-CS</text>
<rect x="42.4" y="153.0" width="27.5" height="15.0" rx="3.5" fill="#dddaeb"/>
<text x="56.2" y="164.4" fill="#111" stroke="#111" stroke-width="0.15" text-anchor="middle">IO33</text>
<rect x="71.3" y="153.0" width="19.9" height="15.0" rx="3.5" fill="#ddcdbd"/>
<text x="81.2" y="164.4" fill="#111" stroke="#111" stroke-width="0.15" text-anchor="middle">A9</text>
<rect x="6.6" y="169.8" width="53.7" height="15.0" rx="3.5" fill="#80bb50"/>
<text x="33.4" y="181.2" fill="#111" stroke="#111" stroke-width="0.15" text-anchor="middle">AMP-DIN</text>
<rect x="61.8" y="169.8" width="28.2" height="15.0" rx="3.5" fill="#d3eef6"/>
<text x="75.9" y="181.2" fill="#111" stroke="#111" stroke-width="0.15" text-anchor="middle">SCL</text>
<rect x="62.0" y="186.5" width="29.5" height="15.0" rx="3.5" fill="#d3eef6"/>
<text x="76.8" y="197.9" fill="#111" stroke="#111" stroke-width="0.15" text-anchor="middle">SDA</text>
<rect x="62.8" y="203.3" width="27.9" height="15.0" rx="3.5" fill="#d52b36"/>
<text x="76.8" y="214.7" fill="#fff" stroke="#fff" stroke-width="0.15" text-anchor="middle">BAT</text>
<rect x="67.9" y="220.1" width="22.8" height="15.0" rx="3.5" fill="#6b6b6b"/>
<text x="79.3" y="231.5" fill="#fff" stroke="#fff" stroke-width="0.15" text-anchor="middle">EN</text>
<rect x="62.8" y="236.9" width="27.9" height="15.0" rx="3.5" fill="#d52b36"/>
<text x="76.8" y="248.3" fill="#fff" stroke="#fff" stroke-width="0.15" text-anchor="middle">USB</text>
<rect x="35.3" y="253.7" width="27.9" height="15.0" rx="3.5" fill="#dddaeb"/>
<text x="49.2" y="265.1" fill="#111" stroke="#111" stroke-width="0.15" text-anchor="middle">IO13</text>
<rect x="64.4" y="253.7" width="26.5" height="15.0" rx="3.5" fill="#ddcdbd"/>
<text x="77.7" y="265.1" fill="#111" stroke="#111" stroke-width="0.15" text-anchor="middle">A12</text>
<rect x="39.7" y="270.4" width="27.3" height="15.0" rx="3.5" fill="#dddaeb"/>
<text x="53.4" y="281.8" fill="#111" stroke="#111" stroke-width="0.15" text-anchor="middle">IO15</text>
<rect x="68.8" y="270.4" width="22.1" height="15.0" rx="3.5" fill="#ddcdbd"/>
<text x="79.8" y="281.8" fill="#111" stroke="#111" stroke-width="0.15" text-anchor="middle">A8</text>
<rect x="39.7" y="287.2" width="25.6" height="15.0" rx="3.5" fill="#dddaeb"/>
<text x="52.5" y="298.6" fill="#111" stroke="#111" stroke-width="0.15" text-anchor="middle">O12</text>
<rect x="67.0" y="287.2" width="23.9" height="15.0" rx="3.5" fill="#ddcdbd"/>
<text x="79.0" y="298.6" fill="#111" stroke="#111" stroke-width="0.15" text-anchor="middle">A11</text>
<rect x="67.5" y="304.0" width="23.5" height="15.0" rx="3.5" fill="#6b6b6b"/>
<text x="79.2" y="315.4" fill="#fff" stroke="#fff" stroke-width="0.15" text-anchor="middle">RX</text>
<rect x="67.5" y="320.8" width="23.5" height="15.0" rx="3.5" fill="#6b6b6b"/>
<text x="79.2" y="332.2" fill="#fff" stroke="#fff" stroke-width="0.15" text-anchor="middle">TX</text>
<rect x="67.5" y="337.6" width="23.5" height="15.0" rx="3.5" fill="#ececec"/>
<text x="79.2" y="349.0" fill="#fff" stroke="#fff" stroke-width="0.15" text-anchor="middle">NC</text>
<rect x="6.9" y="354.3" width="40.1" height="15.0" rx="3.5" fill="#80bb50"/>
<text x="26.9" y="365.7" fill="#111" stroke="#111" stroke-width="0.15" text-anchor="middle">SD-CD</text>
<rect x="48.5" y="354.3" width="21.0" height="15.0" rx="3.5" fill="#dddaeb"/>
<text x="59.0" y="365.7" fill="#111" stroke="#111" stroke-width="0.15" text-anchor="middle">IO4</text>
<rect x="71.5" y="354.3" width="19.5" height="15.0" rx="3.5" fill="#ddcdbd"/>
<text x="81.2" y="365.7" fill="#111" stroke="#111" stroke-width="0.15" text-anchor="middle">A5</text>
<rect x="20.6" y="371.1" width="36.2" height="15.0" rx="3.5" fill="#80bb50"/>
<text x="38.7" y="382.5" fill="#111" stroke="#111" stroke-width="0.15" text-anchor="middle">SD-DI</text>
<rect x="58.3" y="371.1" width="33.7" height="15.0" rx="3.5" fill="#d3eef6"/>
<text x="75.2" y="382.5" fill="#111" stroke="#111" stroke-width="0.15" text-anchor="middle">MOSI</text>
<rect x="18.0" y="387.9" width="38.8" height="15.0" rx="3.5" fill="#80bb50"/>
<text x="37.4" y="399.3" fill="#111" stroke="#111" stroke-width="0.15" text-anchor="middle">SD-DO</text>
<rect x="58.3" y="387.9" width="33.7" height="15.0" rx="3.5" fill="#d3eef6"/>
<text x="75.2" y="399.3" fill="#111" stroke="#111" stroke-width="0.15" text-anchor="middle">MISO</text>
<rect x="530.0" y="209.7" width="23.0" height="15.0" rx="3.5" fill="#ddcdbd"/>
<text x="541.5" y="221.1" fill="#111" stroke="#111" stroke-width="0.15" text-anchor="middle">A11</text>
<rect x="555.0" y="209.7" width="28.0" height="15.0" rx="3.5" fill="#dddaeb"/>
<text x="569.0" y="221.1" fill="#111" stroke="#111" stroke-width="0.15" text-anchor="middle">IO12</text>
<rect x="530.0" y="226.5" width="19.4" height="15.0" rx="3.5" fill="#ddcdbd"/>
<text x="539.7" y="237.9" fill="#111" stroke="#111" stroke-width="0.15" text-anchor="middle">A6</text>
<rect x="551.5" y="226.5" width="28.8" height="15.0" rx="3.5" fill="#dddaeb"/>
<text x="565.9" y="237.9" fill="#111" stroke="#111" stroke-width="0.15" text-anchor="middle">IO14</text>
<rect x="530.0" y="243.3" width="23.0" height="15.0" rx="3.5" fill="#ddcdbd"/>
<text x="541.5" y="254.7" fill="#111" stroke="#111" stroke-width="0.15" text-anchor="middle">A10</text>
<rect x="555.0" y="243.3" width="28.0" height="15.0" rx="3.5" fill="#dddaeb"/>
<text x="569.0" y="254.7" fill="#111" stroke="#111" stroke-width="0.15" text-anchor="middle">IO27</text>
<rect x="529.4" y="260.0" width="20.5" height="15.0" rx="3.5" fill="#ddcdbd"/>
<text x="539.6" y="271.4" fill="#111" stroke="#111" stroke-width="0.15" text-anchor="middle">A0</text>
<rect x="552.2" y="260.0" width="28.5" height="15.0" rx="3.5" fill="#dddaeb"/>
<text x="566.5" y="271.4" fill="#111" stroke="#111" stroke-width="0.15" text-anchor="middle">IO26</text>
<rect x="582.4" y="260.0" width="33.6" height="15.0" rx="3.5" fill="#d3eef6"/>
<text x="599.2" y="271.4" fill="#111" stroke="#111" stroke-width="0.15" text-anchor="middle">DAC2</text>
<rect x="617.2" y="260.0" width="62.3" height="15.0" rx="3.5" fill="#80bb50"/>
<text x="648.4" y="271.4" fill="#111" stroke="#111" stroke-width="0.15" text-anchor="middle">AMP-BCLK</text>
<rect x="529.4" y="276.8" width="20.5" height="15.0" rx="3.5" fill="#ddcdbd"/>
<text x="539.6" y="288.2" fill="#111" stroke="#111" stroke-width="0.15" text-anchor="middle">A1</text>
<rect x="552.2" y="276.8" width="28.5" height="15.0" rx="3.5" fill="#dddaeb"/>
<text x="566.5" y="288.2" fill="#111" stroke="#111" stroke-width="0.15" text-anchor="middle">IO25</text>
<rect x="582.4" y="276.8" width="33.6" height="15.0" rx="3.5" fill="#d3eef6"/>
<text x="599.2" y="288.2" fill="#111" stroke="#111" stroke-width="0.15" text-anchor="middle">DAC1</text>
<rect x="617.2" y="276.8" width="56.2" height="15.0" rx="3.5" fill="#80bb50"/>
<text x="645.3" y="288.2" fill="#111" stroke="#111" stroke-width="0.15" text-anchor="middle">AMP-LRC</text>
<rect x="529.4" y="293.6" width="20.5" height="15.0" rx="3.5" fill="#ddcdbd"/>
<text x="539.6" y="305.0" fill="#111" stroke="#111" stroke-width="0.15" text-anchor="middle">A7</text>
<rect x="552.2" y="293.6" width="28.5" height="15.0" rx="3.5" fill="#dddaeb"/>
<text x="566.5" y="305.0" fill="#111" stroke="#111" stroke-width="0.15" text-anchor="middle">IO32</text>
<rect x="529.9" y="310.4" width="19.7" height="15.0" rx="3.5" fill="#ddcdbd"/>
<text x="539.8" y="321.8" fill="#111" stroke="#111" stroke-width="0.15" text-anchor="middle">A2</text>
<rect x="551.4" y="310.4" width="19.5" height="15.0" rx="3.5" fill="#b3b0d4"/>
<text x="561.1" y="321.8" fill="#111" stroke="#111" stroke-width="0.15" text-anchor="middle">I34</text>
<rect x="529.9" y="327.2" width="19.7" height="15.0" rx="3.5" fill="#ddcdbd"/>
<text x="539.8" y="338.6" fill="#111" stroke="#111" stroke-width="0.15" text-anchor="middle">A3</text>
<rect x="551.4" y="327.2" width="19.5" height="15.0" rx="3.5" fill="#b3b0d4"/>
<text x="561.1" y="338.6" fill="#111" stroke="#111" stroke-width="0.15" text-anchor="middle">I39</text>
<rect x="529.9" y="343.9" width="19.7" height="15.0" rx="3.5" fill="#ddcdbd"/>
<text x="539.8" y="355.3" fill="#111" stroke="#111" stroke-width="0.15" text-anchor="middle">A4</text>
<rect x="551.8" y="343.9" width="28.7" height="15.0" rx="3.5" fill="#dddaeb"/>
<text x="566.1" y="355.3" fill="#111" stroke="#111" stroke-width="0.15" text-anchor="middle">IO36</text>
<rect x="529.9" y="360.7" width="38.7" height="15.0" rx="3.5" fill="#f3e61c"/>
<text x="549.2" y="372.1" fill="#111" stroke="#111" stroke-width="0.15" text-anchor="middle">RESET</text>
<rect x="529.9" y="377.5" width="28.0" height="15.0" rx="3.5" fill="#d52b36"/>
<text x="543.9" y="388.9" fill="#fff" stroke="#fff" stroke-width="0.15" text-anchor="middle">3.3V</text>
<rect x="529.9" y="394.3" width="28.0" height="15.0" rx="3.5" fill="#000000"/>
<text x="543.9" y="405.7" fill="#fff" stroke="#fff" stroke-width="0.15" text-anchor="middle">GND</text>
<rect x="141.0" y="0.5" width="53.4" height="15.0" rx="3.5" fill="#bb4b7f"/>
<text x="167.7" y="11.9" fill="#fff" stroke="#fff" stroke-width="0.15" text-anchor="middle">AMP-DIN</text>
<rect x="152.4" y="17.0" width="42.0" height="15.0" rx="3.5" fill="#bb4b7f"/>
<text x="173.4" y="28.4" fill="#fff" stroke="#fff" stroke-width="0.15" text-anchor="middle">SD-CS</text>
<rect x="144.3" y="33.5" width="50.1" height="15.0" rx="3.5" fill="#bb4b7f"/>
<text x="169.4" y="44.9" fill="#fff" stroke="#fff" stroke-width="0.15" text-anchor="middle">SD-CLK</text>
<rect x="269.6" y="16.7" width="62.4" height="15.0" rx="3.5" fill="#bb4b7f"/>
<text x="300.8" y="28.1" fill="#fff" stroke="#fff" stroke-width="0.15" text-anchor="middle">AMP-GAIN</text>
<rect x="280.1" y="33.7" width="51.9" height="15.0" rx="3.5" fill="#bb4b7f"/>
<text x="306.1" y="45.1" fill="#fff" stroke="#fff" stroke-width="0.15" text-anchor="middle">LED-DIN</text>
<rect x="436.8" y="16.7" width="52.9" height="15.0" rx="3.5" fill="#bb4b7f"/>
<text x="463.2" y="28.1" fill="#fff" stroke="#fff" stroke-width="0.15" text-anchor="middle">AMP-VIN</text>
<rect x="436.8" y="33.7" width="51.4" height="15.0" rx="3.5" fill="#bb4b7f"/>
<text x="462.5" y="45.1" fill="#fff" stroke="#fff" stroke-width="0.15" text-anchor="middle">LED-VIN</text>
<rect x="131.0" y="479.5" width="45.0" height="15.0" rx="3.5" fill="#bb4b7f"/>
<text x="153.5" y="490.9" fill="#fff" stroke="#fff" stroke-width="0.15" text-anchor="middle">SD-DO</text>
<rect x="134.3" y="496.2" width="41.7" height="15.0" rx="3.5" fill="#bb4b7f"/>
<text x="155.2" y="507.6" fill="#fff" stroke="#fff" stroke-width="0.15" text-anchor="middle">SD-DI</text>
<rect x="132.3" y="513.0" width="43.7" height="15.0" rx="3.5" fill="#bb4b7f"/>
<text x="154.2" y="524.4" fill="#fff" stroke="#fff" stroke-width="0.15" text-anchor="middle">SD-CD</text>
<rect x="295.0" y="479.5" width="45.4" height="15.0" rx="3.5" fill="#bb4b7f"/>
<text x="317.7" y="490.9" fill="#fff" stroke="#fff" stroke-width="0.15" text-anchor="middle">SD-VIN</text>
<rect x="453.2" y="479.5" width="56.6" height="15.0" rx="3.5" fill="#bb4b7f"/>
<text x="481.5" y="490.9" fill="#fff" stroke="#fff" stroke-width="0.15" text-anchor="middle">AMP-LRC</text>
<rect x="453.2" y="496.5" width="65.5" height="15.0" rx="3.5" fill="#bb4b7f"/>
<text x="486.0" y="507.9" fill="#fff" stroke="#fff" stroke-width="0.15" text-anchor="middle">AMP-BCLK</text>
</svg>
</div></body></html>
